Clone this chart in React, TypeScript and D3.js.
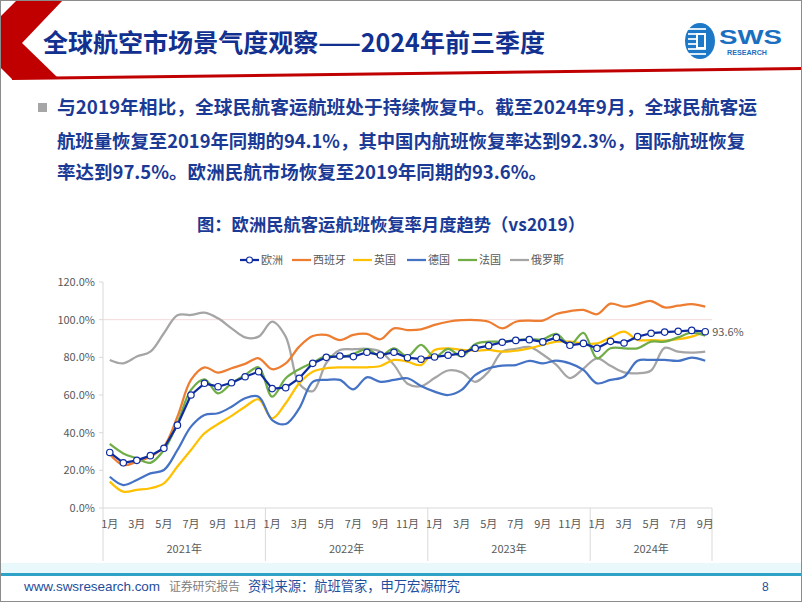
import React from 'react';
import * as d3 from 'd3';

const years = ['2021年', '2022年', '2023年', '2024年'];
const monthsPerYear = [12, 12, 12, 9];
const yTicks = [0, 20, 40, 60, 80, 100, 120];

const europe = [29.5, 24, 25.3, 27.8, 31.7, 44, 60, 66.2, 64.4, 66.5, 69.7, 72.4, 63.4, 63.9, 68.9, 76.8, 80, 80.7, 80.4, 82.7, 81.2, 82.7, 79.8, 79, 80.2, 81.1, 82.1, 84.8, 86.2, 88, 89, 89.4, 88.2, 90.5, 86.4, 87.4, 84.8, 88.5, 87.6, 91, 92.8, 93.4, 93.8, 94.3, 93.6];
const spain = [28.5, 22.8, 24.6, 27.2, 32.6, 48.5, 68, 74.7, 71.9, 74.2, 76.5, 79.5, 73.7, 76.8, 85.7, 91.3, 91.9, 89.2, 91.9, 92.4, 89.6, 95.4, 94.5, 94.9, 97.2, 98.9, 99.7, 99.8, 98.9, 95.4, 98.9, 99.5, 99.5, 103, 104.5, 105.2, 102.9, 108.5, 106.9, 108.3, 109.9, 106.5, 107.4, 108.2, 106.9];
const uk = [14, 8.7, 9.6, 10.5, 13.1, 22, 30.8, 39.7, 44.6, 48.9, 53.8, 57.7, 47.6, 55.6, 66.2, 72.4, 74.2, 74.7, 74.7, 74.7, 75.4, 78.6, 77.7, 75.9, 83.9, 84.8, 83.9, 83.5, 83.9, 83, 83.5, 84.8, 86.6, 88.3, 88.3, 87.4, 87.4, 90.6, 93.6, 89.2, 89.2, 88.9, 89.6, 91, 93.6];
const germany = [16.6, 12.2, 14.9, 18.4, 20.2, 30.8, 43.2, 49.4, 50.3, 53.8, 58.3, 59.1, 46.7, 44.6, 52.9, 67, 68, 68, 63, 69.4, 67, 68, 68.9, 64.8, 61.8, 60, 62.7, 70.6, 74.2, 75.6, 75.9, 78.1, 76.8, 78.2, 76.8, 73.3, 66.2, 68, 69.7, 78.2, 78.6, 78.6, 78.1, 79.8, 78.2];
const france = [34, 29, 26.4, 24, 30.8, 45, 62.7, 68.3, 60.9, 66.2, 70.6, 74.7, 59.1, 68.9, 73.7, 77.2, 80.7, 80, 81.8, 84.3, 80.7, 84.8, 80.5, 86.6, 80.2, 84.5, 80.5, 87, 88.3, 88.3, 89.2, 89.6, 89.6, 92.4, 86.6, 93, 79.5, 84.8, 84.8, 84.8, 88.3, 88.3, 90.6, 93.1, 91.5];
const russia = [78.6, 76.8, 80.4, 83, 92.8, 102.3, 102.5, 103.7, 100.7, 95.4, 90.6, 91, 99, 91, 66, 62, 77, 83.9, 84.3, 84.5, 83, 76, 66, 64.7, 69, 73, 72, 67, 72.5, 83, 84.5, 85.5, 81.5, 76, 69, 74, 79.5, 75.5, 72, 71.5, 73, 85, 83, 82.5, 83];

const seriesNames = ['欧洲', '西班牙', '英国', '德国', '法国', '俄罗斯'];
const seriesColors = ['#0e2ca0', '#ED7D31', '#FFC000', '#4472C4', '#70AD47', '#A5A5A5'];
const seriesData = [europe, spain, uk, germany, france, russia];
const lastLabel = '93.6%';

const monthLabels: string[] = [];
const yearOf: number[] = [];
years.forEach((_, yi) => {
  for (let m = 1; m <= monthsPerYear[yi]; m++) {
    monthLabels.push(`${m}月`);
    yearOf.push(yi);
  }
});

const FONT = '"Microsoft YaHei","Noto Sans CJK SC","Noto Sans",sans-serif';

export default function App() {
  const idx = monthLabels.map((_, i) => i);
  const x = d3.scaleBand<number>().domain(idx).range([103, 712]).paddingInner(0).paddingOuter(0);
  const bw = x.bandwidth();
  const cx = (i: number) => (x(i) as number) + bw / 2;
  const y = d3.scaleLinear().domain([0, 120]).range([508, 282]);

  const smooth = d3.line<number>().x((_, i) => cx(i)).y((d) => y(d)).curve(d3.curveCatmullRom.alpha(0.5));
  const straight = d3.line<number>().x((_, i) => cx(i)).y((d) => y(d));

  const yearStarts: number[] = [];
  let acc = 0;
  monthsPerYear.forEach((n) => { yearStarts.push(acc); acc += n; });
  const boundaries = [...yearStarts.map((s) => x(s) as number), 712];

  const legendX = [240, 292, 353, 407, 458, 510];

  const headerLine1 = '与2019年相比，全球民航客运航班处于持续恢复中。截至2024年9月，全球民航客运';
  const headerLine2 = '航班量恢复至2019年同期的94.1%，其中国内航班恢复率达到92.3%，国际航班恢复';
  const headerLine3 = '率达到97.5%。欧洲民航市场恢复至2019年同期的93.6%。';

  return (
    <svg width={802} height={602} style={{ position: 'absolute', left: 0, top: 0, background: '#fff' }} fontFamily={FONT}>
      <rect x={0} y={0} width={802} height={602} fill="#fff" />
      {/* header chevron */}
      <polygon points="17,0 63,0 22,43 57,77 12,79 0,67 0,17" fill="#C00000" />
      <polygon points="12,77 802,67 802,70 12,80" fill="#C00000" />
      <text x={43} y={52} fontSize={25} fontWeight={700} fill="#12308f" textLength={502} lengthAdjust="spacingAndGlyphs">全球航空市场景气度观察——2024年前三季度</text>
      {/* logo */}
      <g>
        <ellipse cx={700} cy={41} rx={15} ry={18} fill="#1e78c8" />
        {[0, 1, 2, 3, 4, 5].map((k) => (
          <rect key={k} x={688} y={28 + k * 5} width={18} height={2} fill="#fff" opacity={0.85} />
        ))}
        <rect x={696} y={33} width={10} height={16} fill="#fff" />
        <rect x={698} y={35} width={6} height={12} fill="#1e78c8" />
        <text x={719} y={44} fontSize={21} fontWeight={700} fill="#1b6fc0" fontFamily="Liberation Sans, Arial, sans-serif" textLength={63} lengthAdjust="spacingAndGlyphs">SWS</text>
        <text x={727} y={55} fontSize={6.5} fontWeight={700} fill="#1b6fc0" fontFamily="Liberation Sans, Arial, sans-serif" textLength={40} lengthAdjust="spacingAndGlyphs">RESEARCH</text>
      </g>
      {/* body text */}
      <rect x={38} y={103} width={9} height={9} fill="#a6a6a6" />
      <text x={57} y={114} fontSize={18.5} fontWeight={700} fill="#1a3a96" textLength={700} lengthAdjust="spacingAndGlyphs">{headerLine1}</text>
      <text x={57} y={148} fontSize={18.5} fontWeight={700} fill="#1a3a96" textLength={688} lengthAdjust="spacingAndGlyphs">{headerLine2}</text>
      <text x={57} y={179} fontSize={18.5} fontWeight={700} fill="#1a3a96" textLength={490} lengthAdjust="spacingAndGlyphs">{headerLine3}</text>

      {/* chart title */}
      <text x={197} y={231} fontSize={17.5} fontWeight={700} fill="#1a3a96" textLength={388} lengthAdjust="spacingAndGlyphs">图：欧洲民航客运航班恢复率月度趋势（vs2019）</text>

      {/* legend */}
      {seriesNames.map((name, i) => (
        <g key={name}>
          <line x1={legendX[i]} x2={legendX[i] + 19} y1={260} y2={260} stroke={seriesColors[i]} strokeWidth={2.25} />
          {i === 0 && <circle cx={legendX[i] + 9.5} cy={260} r={3} fill="#fff" stroke={seriesColors[i]} strokeWidth={1.2} />}
          <text x={legendX[i] + 21} y={264} fontSize={11} fill="#595959">{name}</text>
        </g>
      ))}

      {/* gridline at 100% */}
      <line x1={103} x2={712} y1={y(100)} y2={y(100)} stroke="#f5dada" strokeWidth={1} />

      {/* y axis */}
      <line x1={103} x2={103} y1={y(120)} y2={y(0)} stroke="#d9d9d9" />
      {yTicks.map((t) => (
        <g key={t}>
          <line x1={99} x2={103} y1={y(t)} y2={y(t)} stroke="#d9d9d9" />
          <text x={95} y={y(t) + 4} fontSize={11} fill="#595959" textAnchor="end">{`${t.toFixed(1)}%`}</text>
        </g>
      ))}

      {/* x axis */}
      <line x1={103} x2={712} y1={y(0)} y2={y(0)} stroke="#d9d9d9" />
      {boundaries.map((b, i) => (
        <line key={i} x1={b} x2={b} y1={y(0)} y2={561} stroke="#d9d9d9" />
      ))}
      {monthLabels.map((m, i) =>
        (i - yearStarts[yearOf[i]]) % 2 === 0 ? (
          <text key={i} x={cx(i)} y={528} fontSize={11} fill="#595959" textAnchor="middle">{m}</text>
        ) : null
      )}
      {years.map((yr, yi) => (
        <text key={yr} x={(boundaries[yi] + boundaries[yi + 1]) / 2} y={553} fontSize={11} fill="#595959" textAnchor="middle">{yr}</text>
      ))}

      {/* series lines */}
      {[5, 1, 2, 3, 4].map((si) => (
        <path key={si} d={smooth(seriesData[si]) || ''} fill="none" stroke={seriesColors[si]} strokeWidth={2.25} strokeLinejoin="round" />
      ))}
      <path d={straight(europe) || ''} fill="none" stroke={seriesColors[0]} strokeWidth={2.25} strokeLinejoin="round" />
      {europe.map((v, i) => (
        <circle key={i} cx={cx(i)} cy={y(v)} r={3.2} fill="#fff" stroke={seriesColors[0]} strokeWidth={1.2} />
      ))}
      <text x={cx(44) + 7} y={y(europe[44]) + 4} fontSize={11} fill="#595959">{lastLabel}</text>

      {/* footer */}
      <rect x={0} y={563} width={802} height={10} fill="#e8f8fb" />
      <rect x={0} y={573} width={802} height={3} fill="#2ea3c7" />
      <text x={24} y={591} fontSize={13.5} fill="#1f4e9c" fontFamily="Liberation Sans, Arial, sans-serif" textLength={136}>www.swsresearch.com</text>
      <text x={169} y={591} fontSize={12} fill="#7f7f7f" textLength={71}>证券研究报告</text>
      <text x={248} y={591} fontSize={13.3} fill="#1f4e9c" textLength={212}>资料来源：航班管家，申万宏源研究</text>
      <text x={762} y={591} fontSize={12} fill="#1f4e9c" fontFamily="Liberation Sans, Arial, sans-serif">8</text>

      {/* slide border */}
      <rect x={0.5} y={0.5} width={801} height={601} fill="none" stroke="#8c8c8c" strokeWidth={1} />
    </svg>
  );
}
